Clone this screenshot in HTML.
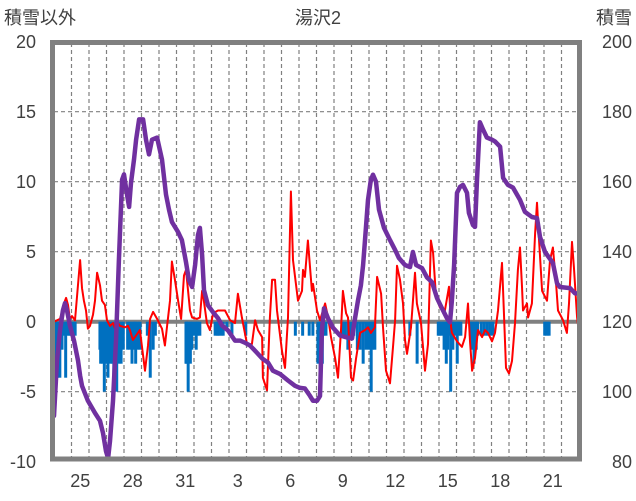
<!DOCTYPE html>
<html><head><meta charset="utf-8">
<style>
html,body{margin:0;padding:0;background:#fff;}
svg{display:block;font-family:"Liberation Sans","Noto Sans CJK JP",sans-serif;}
</style></head>
<body>
<svg id="chart" width="636" height="501" viewBox="0 0 636 501" xmlns="http://www.w3.org/2000/svg">
<text x="4" y="24" font-size="18" fill="#404040">積雪以外</text>
<text x="318" y="24" font-size="18" fill="#404040" text-anchor="middle">湯沢2</text>
<text x="632" y="24" font-size="18" fill="#404040" text-anchor="end">積雪</text>
<g id="grid"></g>
<g id="bars"></g>
<g id="lines"></g>
<g id="axes"></g>
</svg>
<script>
// ---- data ----
const leftTicks = [20, 15, 10, 5, 0, -5, -10];
const rightTicks = [200, 180, 160, 140, 120, 100, 80];
const dayLabels = ["25","28","31","3","6","9","12","15","18","21"];
const dayLabelPos = [1.5, 4.5, 7.5, 10.5, 13.5, 16.5, 19.5, 22.5, 25.5, 28.5];
const redT = [0,0.17,0.34,0.63,0.69,0.8,0.91,1.03,1.2,1.49,1.6,1.71,1.83,1.94,2.06,2.23,2.34,2.46,2.63,2.74,2.91,3.03,3.2,3.37,3.49,3.66,3.77,4.06,4.23,4.34,4.51,4.91,5.2,5.37,5.49,5.66,5.89,6.17,6.34,6.46,6.63,6.74,6.91,7.09,7.26,7.43,7.54,7.77,7.89,8.17,8.34,8.46,8.51,8.74,8.91,9.09,9.37,9.77,10.06,10.34,10.51,10.74,11.03,11.31,11.49,11.66,11.89,11.94,12.17,12.34,12.46,12.63,12.74,13.03,13.2,13.37,13.54,13.66,13.94,14.17,14.23,14.34,14.51,14.74,14.8,15.03,15.2,15.49,15.66,15.83,16.06,16.23,16.4,16.51,16.69,16.8,16.97,17.09,17.26,17.49,17.77,17.94,18.11,18.34,18.46,18.69,18.8,18.97,19.2,19.37,19.49,19.6,19.77,19.94,20.06,20.17,20.4,20.63,20.74,20.97,21.2,21.37,21.54,21.66,21.83,22.06,22.34,22.57,22.69,22.74,23.03,23.31,23.49,23.66,23.77,23.89,24.06,24.23,24.46,24.63,24.8,25.03,25.2,25.37,25.6,25.66,25.83,26.0,26.17,26.34,26.51,26.63,26.74,26.8,27.03,27.09,27.31,27.49,27.6,27.71,27.89,28.17,28.34,28.51,28.69,28.8,29.09,29.31,29.43,29.6,29.71,29.89,30.0];
const redV = [0,0.1,0.2,1.5,1.7,1.2,0.2,0.4,0.1,4.4,2.4,1.5,0.8,-0.5,-0.3,0.5,1.5,3.5,2.6,1.5,1.2,0.1,-0.3,-0.1,-0.5,-0.1,-0.3,-0.4,-0.3,-0.6,-1.3,-0.6,-3.5,-1.7,0.2,0.7,0.2,-0.5,-1.7,-0.3,1.5,4.3,3.0,1.5,0.2,3.3,3.7,0.8,0.3,0.2,0.3,2.2,2.0,-0.1,-0.6,0.6,0.8,0.8,0.1,-0.1,2.0,0.3,-1.6,-1.6,0.1,-0.6,-1.1,-4.0,-4.9,0.3,3.0,3.0,0.8,-2.1,-3.3,0.3,9.3,4.4,1.5,2.2,3.7,3.2,5.8,2.2,2.7,0.8,0.1,1.3,0.3,-1.1,-2.6,-4.0,-0.6,2.2,0.6,0.3,-4.0,-4.2,-2.6,-0.8,-0.6,-0.4,-0.8,-0.4,3.2,2.0,-0.4,-3.5,-4.4,-1.8,0.1,4.0,3.0,1.3,-1.3,-2.3,-0.4,3.5,1.3,-0.1,-3.5,-1.6,5.8,4.9,1.8,1.0,0.8,2.5,-0.4,-0.8,-1.4,-1.8,-1.1,1.3,-1.4,-3.5,-2.6,-0.6,-1.1,-0.6,-0.8,-1.4,-0.8,0.8,4.2,2.2,-3.3,-3.7,-2.8,-0.1,3.7,5.3,2.5,0.8,1.3,0.3,1.3,6.3,8.5,6.0,2.2,1.5,4.4,5.3,2.7,0.8,0.1,-0.8,1.3,5.7,3.9,0.3,-0.8];
const snowT = [0,0.17,0.34,0.51,0.63,0.74,0.91,1.14,1.37,1.49,1.6,1.94,2.34,2.63,2.8,2.97,3.09,3.2,3.37,3.54,3.71,3.89,4.0,4.17,4.29,4.4,4.57,4.69,4.86,5.09,5.26,5.43,5.6,5.89,6.17,6.4,6.57,6.74,7.09,7.31,7.54,7.71,7.89,8.06,8.23,8.34,8.46,8.57,8.8,9.09,9.37,9.6,9.94,10.34,10.63,10.91,11.2,11.49,11.89,12.23,12.51,12.91,13.37,13.77,14.06,14.34,14.63,14.8,15.03,15.2,15.31,15.43,15.66,15.94,16.34,16.74,17.03,17.2,17.37,17.54,17.66,17.77,17.94,18.11,18.23,18.4,18.57,18.86,19.2,19.49,19.71,20.06,20.34,20.51,20.69,21.03,21.31,21.6,21.89,22.17,22.46,22.63,22.74,22.86,23.03,23.2,23.37,23.6,23.71,23.94,24.06,24.17,24.34,24.51,24.74,25.03,25.2,25.49,25.66,25.94,26.23,26.63,26.91,27.31,27.6,27.77,28.06,28.51,28.74,28.91,29.49,29.77,30.0];
const snowV = [93.1,108.9,117.5,123.2,125.3,123.2,118.9,114.6,108.9,104.6,101.7,97.4,93.9,91.7,88.2,83.0,81.0,85.9,97.4,114.6,137.6,160.6,162.1,156.3,152.8,159.7,166.3,172.0,177.8,177.8,172.0,167.8,172.0,172.6,166.3,156.3,152.0,148.5,145.6,143.3,137.0,131.9,129.9,136.2,144.8,146.8,139.1,129.0,124.7,122.7,121.0,118.9,117.5,114.6,114.6,114.0,113.2,111.7,109.5,108.3,106.0,105.1,103.2,101.7,101.1,100.9,98.8,97.4,97.4,98.8,117.5,123.8,120.9,118.3,116.1,115.5,115.2,120.9,126.1,130.4,136.2,143.3,154.8,160.6,162.0,160.0,152.0,146.8,143.3,140.5,138.2,136.2,135.6,139.9,136.2,135.3,132.7,131.3,126.7,123.8,120.9,119.8,126.1,136.2,156.8,158.5,159.1,156.8,151.1,147.6,147.1,160.6,177.0,175.0,172.6,172.0,171.5,170.0,161.1,159.1,158.3,154.8,151.4,149.9,149.6,144.2,139.9,136.8,131.0,129.9,129.6,128.1,128.1];
const barHour = [0,1,4,5,8,11,14,16,18,21,23,26,29,63,64,67,69,71,74,77,80,82,85,86,89,92,95,101,104,107,110,112,115,118,128,132,136,139,181,182,184,187,189,192,195,197,200,221,224,226,229,232,237,244,263,331,341,350,355,362,365,368,370,373,396,399,403,407,411,416,420,424,428,432,435,437,440,488,498,527,529,532,535,538,540,543,544,547,550,553,555,558,571,573,576,579,581,586,590,594,598,602,673,676,679];
const barV = [-4,-4,-2,-4,-4,-2,-1,-4,-1,-1,-1,-1,-1,-2,-3,-3,-5,-3,-4,-3,-3,-4,-3,-5,-3,-3,-2,-2,-2,-3,-2,-3,-2,-2,-1,-4,-2,-1,-3,-3,-5,-3,-2,-1,-2,-1,-1,-1,-1,-1,-1,-1,-0.5,-1,-1,-1,-1,-1,-1,-3,-5,-3,-1,-1,-1,-1,-2,-1,-1,-2,-2,-3,-2,-2,-5,-2,-2,-1,-3,-1,-1,-1,-2,-3,-2,-1,-5,-2,-1,-3,-1,-1,-1,-2,-3,-2,-1,-1,-1,-1,-1,-1,-1,-1,-1];

// ---- scales ----
const X0 = 54, X1 = 579, DAYS = 30;
function xScale(t){ return X0 + (t / DAYS) * (X1 - X0); }
function yLeft(v){ return 321.7 - 14 * v; }
function yRight(d){ return yLeft((d - 120) / 4); }
const NS = "http://www.w3.org/2000/svg";
function mk(tag, attrs, parent){ const e = document.createElementNS(NS, tag); for (const k in attrs) e.setAttribute(k, attrs[k]); parent.appendChild(e); return e; }

const grid = document.getElementById('grid');
const axes = document.getElementById('axes');
const bars = document.getElementById('bars');
const lines = document.getElementById('lines');

for (let d = 1; d < DAYS; d++) {
  const x = xScale(d);
  const l = mk('line', {x1:x, x2:x, y1:43, y2:459, stroke:'#808080', 'stroke-width':1.2, 'stroke-dasharray':'4,3'}, grid);
  
  
}
leftTicks.forEach(v => {
  if (v === 20 || v === -10 || v === 0) return;
  const y = yLeft(v);
  const l = mk('line', {x1:X0, x2:X1, y1:y, y2:y, stroke:'#808080', 'stroke-width':1.2, 'stroke-dasharray':'4,3'}, grid);
  
  
});

barHour.forEach((h, i) => {
  const x = xScale(h / 24);
  const y0 = yLeft(0), y1 = yLeft(barV[i]);
  const r = mk('rect', {x:x - 1.5, y:y0, width:3, height:y1 - y0, fill:'#0070C0'}, bars);
  
  
});

const zl = mk('line', {x1:X0, x2:X1, y1:yLeft(0), y2:yLeft(0), stroke:'#808080', 'stroke-width':4}, grid);



const redPts = redT.map((t, i) => xScale(t).toFixed(1) + ',' + yLeft(redV[i]).toFixed(1)).join(' ');
const red = mk('polyline', {points:redPts, fill:'none', stroke:'#FF0000', 'stroke-width':2, 'stroke-linejoin':'round'}, lines);



const snowPts = snowT.map((t, i) => xScale(t).toFixed(1) + ',' + yRight(snowV[i]).toFixed(1)).join(' ');
const snow = mk('polyline', {points:snowPts, fill:'none', stroke:'#7030A0', 'stroke-width':4.5, 'stroke-linejoin':'round', 'stroke-linecap':'round'}, lines);



const fr = mk('rect', {x:X0 - 1.5, y:42.5, width:X1 - X0 + 2, height:416.5, fill:'none', stroke:'#808080', 'stroke-width':5}, axes);



leftTicks.forEach(v => {
  const t = mk('text', {x:36, y:yLeft(v) + 6.5, 'font-size':18, fill:'#404040', 'text-anchor':'end'}, axes);
  t.textContent = String(v);
  
  
});
rightTicks.forEach(d => {
  const t = mk('text', {x:632, y:yRight(d) + 6.5, 'font-size':18, fill:'#404040', 'text-anchor':'end'}, axes);
  t.textContent = String(d);
  
  
});
dayLabels.forEach((s, i) => {
  const t = mk('text', {x:xScale(dayLabelPos[i]), y:487, 'font-size':18, fill:'#404040', 'text-anchor':'middle'}, axes);
  t.textContent = s;
  
  
});
</script>
</body></html>
